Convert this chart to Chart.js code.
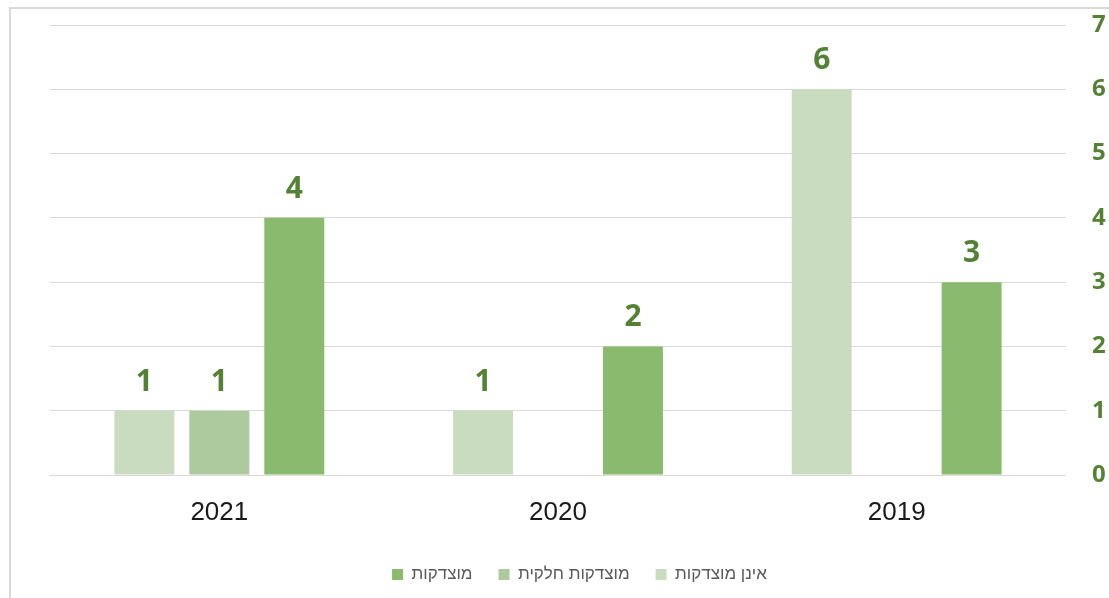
<!DOCTYPE html>
<html lang="he">
<head>
<meta charset="utf-8">
<script src="https://cdn.jsdelivr.net/npm/chart.js@4.4.1/dist/chart.umd.min.js"></script>
<style>
  html, body { margin: 0; padding: 0; background: #fff; overflow: hidden; }
  #wrap { position: relative; width: 1109px; height: 598px; }
  #frame { position: absolute; left: 9px; top: 7px; width: 1200px; height: 700px;
           border-left: 2px solid #d9d9d9; border-top: 2px solid #d9d9d9; pointer-events: none; }
  canvas { position: absolute; left: 0; top: 0; }
</style>
</head>
<body>
<div id="wrap">
  <canvas id="c" width="1109" height="598"></canvas>
  <div id="frame"></div>
</div>
<script>
const categories = ['2021', '2020', '2019'];
const seriesNames = ['אינן מוצדקות', 'מוצדקות חלקית', 'מוצדקות'];
const notJustified = [1, 1, 6];
const partlyJustified = [1, 0, 0];
const justified = [4, 2, 3];
const yTicks = [0, 1, 2, 3, 4, 5, 6, 7];

const colors = ['#c9dcc0', '#adca9e', '#8aba6e'];
const labelColor = '#548235';

const valueLabels = {
  id: 'valueLabels',
  afterDatasetsDraw(chart) {
    const ctx = chart.ctx;
    ctx.save();
    ctx.font = 'bold 30px "Noto Sans", "DejaVu Sans", sans-serif';
    ctx.fillStyle = labelColor;
    ctx.textAlign = 'center';
    ctx.textBaseline = 'alphabetic';
    chart.data.datasets.forEach((ds, i) => {
      const meta = chart.getDatasetMeta(i);
      meta.data.forEach((bar, j) => {
        const v = ds.data[j];
        if (v > 0) ctx.fillText(String(v), bar.x, bar.y - 20);
      });
    });
    ctx.restore();
  }
};

new Chart(document.getElementById('c'), {
  type: 'bar',
  data: {
    labels: categories,
    datasets: [
      { label: seriesNames[0], data: notJustified, backgroundColor: colors[0] },
      { label: seriesNames[1], data: partlyJustified, backgroundColor: colors[1] },
      { label: seriesNames[2], data: justified, backgroundColor: colors[2] }
    ]
  },
  options: {
    responsive: false,
    animation: false,
    devicePixelRatio: 1,
    layout: { padding: { left: 50, right: 0, top: 25, bottom: 5 } },
    datasets: { bar: { categoryPercentage: 0.664, barPercentage: 0.8 } },
    scales: {
      x: {
        grid: { display: false, drawTicks: false },
        border: { display: false },
        ticks: {
          padding: 22,
          color: '#1a1a1a',
          font: { family: '"Liberation Sans", Arial, sans-serif', size: 26 }
        },
        afterFit(scale) { scale.height = 65; }
      },
      y: {
        position: 'right',
        min: 0, max: 7,
        afterBuildTicks(scale) { scale.ticks = yTicks.map(v => ({ value: v })); },
        grid: { color: '#d9d9d9', lineWidth: 1, drawTicks: false },
        border: { display: false },
        ticks: {
          padding: 26,
          color: labelColor,
          font: { family: '"Noto Sans", "DejaVu Sans", sans-serif', size: 24, weight: 'bold' }
        },
        afterFit(scale) {
          scale.width = 43;
          scale.paddingTop = 0;
          scale.paddingBottom = 0;
        }
      }
    },
    plugins: {
      legend: {
        position: 'bottom',
        reverse: true,
        labels: {
          boxWidth: 11,
          boxHeight: 11,
          padding: 26,
          color: '#595959',
          font: { family: '"Liberation Sans", Arial, sans-serif', size: 17 }
        }
      },
      tooltip: { enabled: false }
    }
  },
  plugins: [valueLabels]
});
</script>
</body>
</html>
